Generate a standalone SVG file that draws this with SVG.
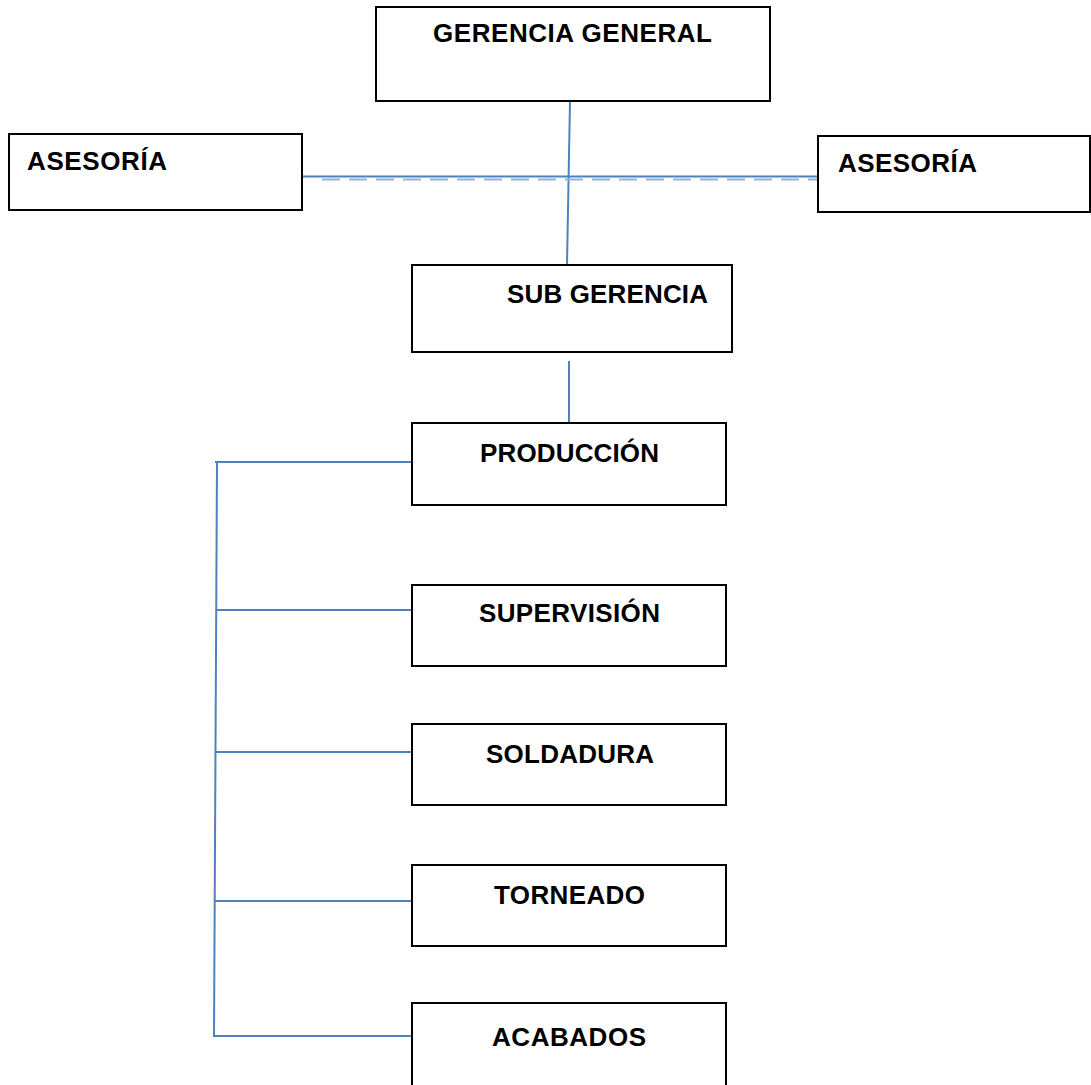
<svg xmlns="http://www.w3.org/2000/svg" width="1091" height="1085" viewBox="0 0 1091 1085">
<style>
.box{fill:#fff;stroke:#000;stroke-width:2}
.lbl{font-family:"Liberation Sans",Arial,sans-serif;font-weight:bold;font-size:26px;fill:#000}
.ln{stroke:#4F81BD;stroke-width:2;fill:none}
.dash{stroke:#95B3D7;stroke-width:2;fill:none;stroke-dasharray:18 9}
</style>
<rect width="1091" height="1085" fill="#fff"/>
<g id="connectors">
<line class="ln" x1="570" y1="101" x2="567" y2="265"/>
<line class="ln" x1="302" y1="176.5" x2="818" y2="176.5"/>
<line class="dash" x1="322" y1="179.5" x2="818" y2="179.5"/>
<line class="ln" x1="569" y1="361" x2="569" y2="423"/>
<line class="ln" x1="217" y1="462" x2="214" y2="1037"/>
<line class="ln" x1="215" y1="462" x2="412" y2="462"/>
<line class="ln" x1="216" y1="610" x2="414" y2="610"/>
<line class="ln" x1="215" y1="752" x2="412" y2="752"/>
<line class="ln" x1="214" y1="901" x2="412" y2="901"/>
<line class="ln" x1="214" y1="1036" x2="412" y2="1036"/>
</g>
<g id="gerencia-general">
<rect class="box" x="376" y="7" width="394" height="94"/>
<text class="lbl" x="433" y="42" textLength="279" lengthAdjust="spacing">GERENCIA GENERAL</text>
</g>
<g id="asesoria-izq">
<rect class="box" x="9" y="134" width="293" height="76"/>
<text class="lbl" x="27" y="170" textLength="140" lengthAdjust="spacing">ASESORÍA</text>
</g>
<g id="asesoria-der">
<rect class="box" x="818" y="136" width="272" height="76"/>
<text class="lbl" x="838" y="172" textLength="139" lengthAdjust="spacing">ASESORÍA</text>
</g>
<g id="sub-gerencia">
<rect class="box" x="412" y="265" width="320" height="87"/>
<text class="lbl" x="507" y="303" textLength="201" lengthAdjust="spacing">SUB GERENCIA</text>
</g>
<g id="produccion">
<rect class="box" x="412" y="423" width="314" height="82"/>
<text class="lbl" x="480" y="462" textLength="179" lengthAdjust="spacing">PRODUCCIÓN</text>
</g>
<g id="supervision">
<rect class="box" x="412" y="585" width="314" height="81"/>
<text class="lbl" x="479" y="622" textLength="181" lengthAdjust="spacing">SUPERVISIÓN</text>
</g>
<g id="soldadura">
<rect class="box" x="412" y="724" width="314" height="81"/>
<text class="lbl" x="486" y="763" textLength="168" lengthAdjust="spacing">SOLDADURA</text>
</g>
<g id="torneado">
<rect class="box" x="412" y="865" width="314" height="81"/>
<text class="lbl" x="494" y="904" textLength="151" lengthAdjust="spacing">TORNEADO</text>
</g>
<g id="acabados">
<rect class="box" x="412" y="1003" width="314" height="90"/>
<text class="lbl" x="492" y="1046" textLength="154" lengthAdjust="spacing">ACABADOS</text>
</g>
</svg>
